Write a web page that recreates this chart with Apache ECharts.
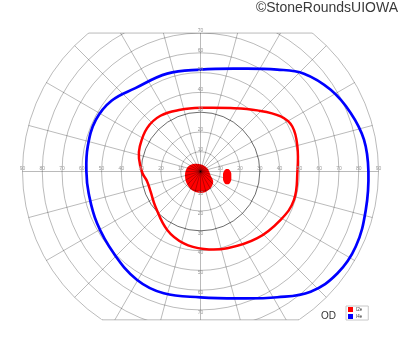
<!DOCTYPE html>
<html><head><meta charset="utf-8">
<script src="https://cdn.jsdelivr.net/npm/echarts@6/dist/echarts.min.js"></script>
<style>html,body{margin:0;padding:0;background:#fff}#c{width:400px;height:352px}</style>
</head><body><div id="c"></div>
<script>
// ---- data (radius in degrees, angle in degrees; 0 = right, counter-clockwise) ----
const ringTicks = [0,10,20,30,40,50,60,70,80,90];
const darkRing = 30;
const spokeStep = 15;
const topLimit = 70;      // field clipped above 70°
const bottomLimit = 75;   // field clipped below 75°
const legendNames = ['I2e','I4e'];
const eyeLabel = 'OD';
const creditText = '©StoneRoundsUIOWA';

const isopterI4e = [
  [84.9,0],[84.2,11],[81.5,21.3],[77.7,32.1],[72,43.4],[64.5,53],[55.2,70.3],[51.5,90],
  [52.3,108.8],[53.5,128],[57.5,141.5],[59,153.8],[58.4,167.5],[57.7,180],[57.6,191],
  [58.5,206.6],[60.3,223.3],[63.5,239.7],[64.3,253.2],[63.6,270],[66.8,286.1],[74.5,301.4],
  [82.4,312.5],[86.3,323.4],[87.2,334.2],[85.8,346.9]
];
const isopterI2e = [
  [49,0],[50.6,14.5],[51.7,26.1],[49.2,34.5],[42.2,47.1],[35.5,64.6],[32.2,90],[32.8,108],
  [34.7,125.7],[34.8,140.9],[33.2,157.6],[31.8,168],[29.4,181.5],[27.5,190],[27.2,202],
  [28.9,218],[34,240.3],[37.3,256.9],[39.2,272.5],[41.1,289.2],[44.3,310.4],[47.3,328.9],
  [49.4,343.1]
];
const scotomaCentral = [
  [3.4,62],[3.9,20],[5.4,340],[8.3,321],[9.9,300],[10.9,274],[10.5,247],[9.3,222],
  [8.3,200],[7.4,174],[6.2,148],[4.3,115]
];
const blindSpot = [
  [13.56,5.5],[15.1,0.8],[15.81,350.5],[16.04,340.3],[14.97,334.3],[13.06,335.6],
  [11.69,347.1],[11.9,0.96]
];

// ---- styles / layout ----
const CENTER = [200.5, 171.5];
const RADIUS = 178;
const GRID = 'rgba(0,0,0,0.27)';
const DARK = 'rgba(0,0,0,0.58)';
const RED = '#ff0000', BLUE = '#0000ff';
const LABEL = {fontSize:5, color:'#999', fontFamily:'Liberation Sans'};

const chart = echarts.init(document.getElementById('c'), null, {renderer:'canvas'});

function shapeSeries(name, pts, style, smooth, z, color){
  return {
    type:'custom', name, coordinateSystem:'polar', polarIndex:0, z,
    itemStyle:{color}, data:[[0,0]], silent:true,
    renderItem:(params, api)=>({
      type:'polygon',
      shape:{points: pts.map(p=>api.coord(p)), smooth},
      style
    })
  };
}

const labelAxes = [
  {start:0,   va:'bottom', fmt:v=>v>0?String(v):''},
  {start:180, va:'bottom', fmt:v=>v>0?String(v):''},
  {start:90,  va:'bottom', fmt:v=>(v>0&&v<=topLimit)?String(v):''},
  {start:270, va:'top',    fmt:v=>(v>0&&v<=topLimit)?String(v):''}
];

const polar = [{center:CENTER, radius:RADIUS}];
const angleAxis = [{
  polarIndex:0, type:'value', min:0, max:360, interval:spokeStep, startAngle:0, clockwise:false, z:3,
  axisLine:{show:false}, axisTick:{show:false}, axisLabel:{show:false},
  splitLine:{show:true, lineStyle:{color:GRID, width:1}}
}];
const radiusAxis = [{
  polarIndex:0, type:'value', min:0, max:90, interval:10, z:3,
  axisLine:{show:false}, axisTick:{show:false}, axisLabel:{show:false},
  splitLine:{show:true, lineStyle:{color:ringTicks.map(t=>t===darkRing?DARK:GRID), width:1}}
}];
labelAxes.forEach((a,i)=>{
  polar.push({center:CENTER, radius:RADIUS});
  angleAxis.push({polarIndex:i+1, type:'value', min:0, max:360, startAngle:a.start, clockwise:false, show:false});
  radiusAxis.push({
    polarIndex:i+1, type:'value', min:0, max:90, interval:10, z:7,
    axisLine:{show:false}, axisTick:{show:false}, splitLine:{show:false},
    axisLabel:Object.assign({show:true, margin:0, align:'center', verticalAlign:a.va, formatter:a.fmt, showMinLabel:true, showMaxLabel:true}, LABEL)
  });
});

chart.setOption({
  animation:false,
  polar, angleAxis, radiusAxis,
  legend:{
    data:legendNames, orient:'vertical', left:346, top:306, icon:'rect',
    itemWidth:5, itemHeight:5, itemGap:2, padding:[1,6,1,2],
    borderColor:'#c8c8c8', borderWidth:1, z:9, selectedMode:false,
    textStyle:{fontSize:4.5, color:'#333', fontFamily:'Liberation Sans', padding:[0,0,0,-2]}
  },
  series:[
    shapeSeries('I2e', scotomaCentral, {fill:RED}, 0.35, 2, RED),
    shapeSeries('I2e', blindSpot, {fill:RED}, 0.5, 5, RED),
    shapeSeries('I2e', isopterI2e, {fill:'none', stroke:RED, lineWidth:2.5}, 0.4, 5, RED),
    shapeSeries('I4e', isopterI4e, {fill:'none', stroke:BLUE, lineWidth:2.7}, 0.4, 5, BLUE)
  ]
});

// clip the field above/below, with the border line along each cut
const c = chart.convertToPixel({polarIndex:0}, [0,0]);
const edge = chart.convertToPixel({polarIndex:0}, [90,0]);
const Rpx = Math.abs(edge[0]-c[0]);
const topY = chart.convertToPixel({polarIndex:0}, [topLimit,90])[1];
const botY = chart.convertToPixel({polarIndex:0}, [bottomLimit,270])[1];
const wTop = Math.sqrt(Rpx*Rpx-(c[1]-topY)*(c[1]-topY));
const wBot = Math.sqrt(Rpx*Rpx-(botY-c[1])*(botY-c[1]));
chart.setOption({
  graphic:[
    {type:'rect', z:6, silent:true, shape:{x:0,y:0,width:400,height:topY}, style:{fill:'#fff'}},
    {type:'rect', z:6, silent:true, shape:{x:0,y:botY,width:400,height:352-botY}, style:{fill:'#fff'}},
    {type:'line', z:6, silent:true, shape:{x1:c[0]-wTop,y1:topY,x2:c[0]+wTop,y2:topY}, style:{stroke:GRID,lineWidth:1}},
    {type:'line', z:6, silent:true, shape:{x1:c[0]-wBot,y1:botY,x2:c[0]+wBot,y2:botY}, style:{stroke:GRID,lineWidth:1}},
    {type:'text', z:10, silent:true, x:398, y:8.5, style:{text:creditText, align:'right', verticalAlign:'middle', font:'14px "Liberation Sans"', fill:'#3a3a3a'}},
    {type:'text', z:10, silent:true, x:328.5, y:316.5, style:{text:eyeLabel, align:'center', verticalAlign:'middle', font:'10px "Liberation Sans"', fill:'#333'}}
  ]
});
</script></body></html>
